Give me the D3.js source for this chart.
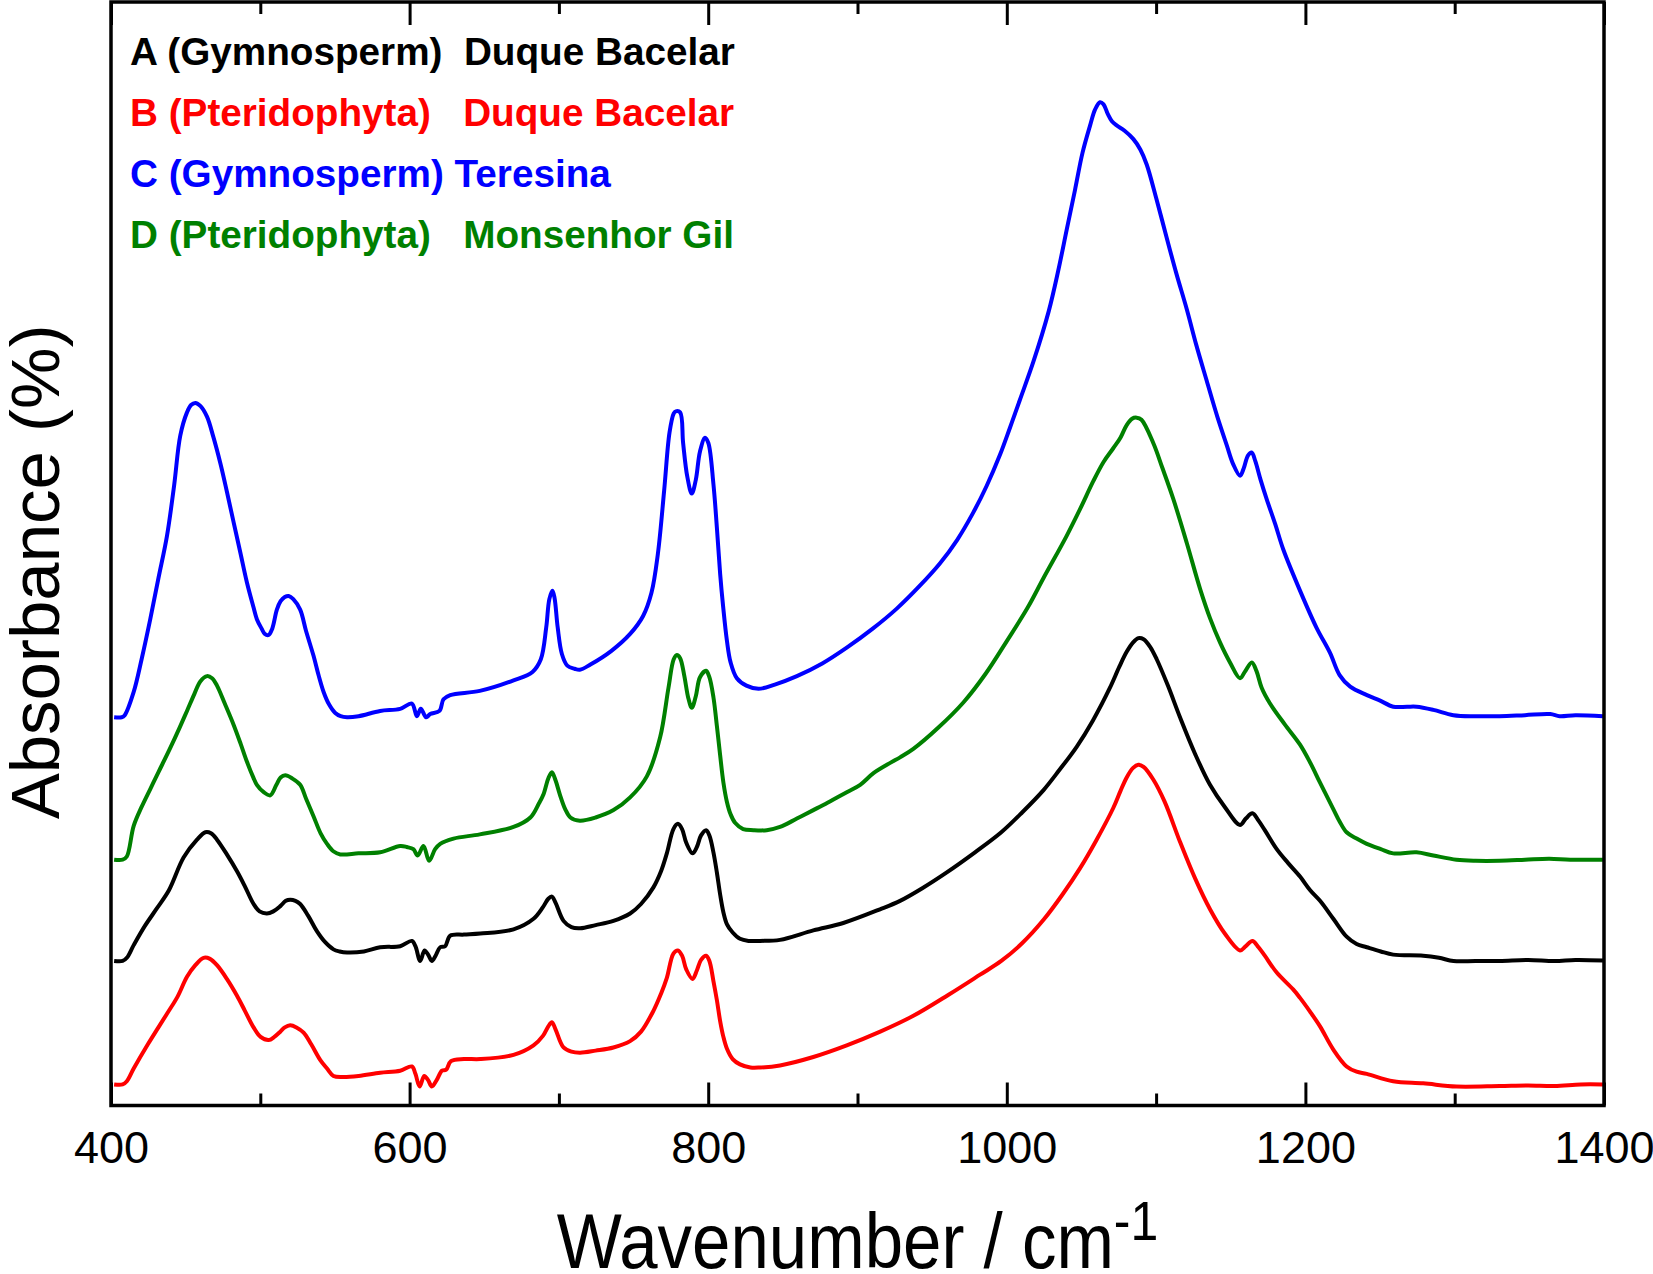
<!DOCTYPE html>
<html>
<head>
<meta charset="utf-8">
<script src="https://cdn.jsdelivr.net/npm/d3@7"></script>
<style>
html, body { margin: 0; padding: 0; background: #fff; }
svg { display: block; font-family: "Liberation Sans", Arial, sans-serif; }
</style>
</head>
<body>
<svg id="chart" width="1653" height="1274"></svg>
<script>
// x axis
const xTicksMajor = [400, 600, 800, 1000, 1200, 1400];
const xTicksMinor = [500, 700, 900, 1100, 1300];

// legend
const legendLabels = [
    "A (Gymnosperm)  Duque Bacelar",
    "B (Pteridophyta)   Duque Bacelar",
    "C (Gymnosperm) Teresina",
    "D (Pteridophyta)   Monsenhor Gil"
];
const seriesColors = ["#000000", "#ff0000", "#0000ff", "#008000"];

// spectra, [wavenumber, absorbance (offset, a.u.)]
const specA = [
    [402.1,0.137],[407.8,0.137],[410.6,0.140],[415.2,0.152],[422.6,0.170],[430.8,0.187],[438.8,0.204],
    [448.6,0.235],[457.6,0.252],[463.2,0.259],[467.0,0.258],[471.0,0.252],[477.6,0.238],[484.4,0.222],
    [489.6,0.208],[495.5,0.191],[499.5,0.184],[504.4,0.182],[508.7,0.184],[513.4,0.189],[517.1,0.194],
    [520.0,0.195],[523.5,0.194],[526.7,0.191],[532.0,0.180],[538.0,0.165],[543.3,0.155],[549.0,0.148],
    [553.1,0.146],[558.1,0.145],[569.4,0.146],[580.3,0.150],[593.7,0.151],[601.5,0.156],[603.9,0.151],
    [607.1,0.137],[610.0,0.147],[612.4,0.143],[614.9,0.137],[617.4,0.142],[620.5,0.150],[623.8,0.151],
    [627.2,0.161],[636.4,0.162],[647.3,0.163],[669.6,0.167],[683.0,0.177],[689.3,0.188],[692.9,0.196],
    [695.3,0.198],[697.8,0.192],[703.1,0.175],[708.4,0.169],[714.2,0.168],[724.6,0.171],[736.5,0.175],
    [747.7,0.182],[755.0,0.191],[763.4,0.207],[768.4,0.222],[772.3,0.239],[776.7,0.262],[779.7,0.267],
    [782.5,0.262],[785.3,0.249],[789.5,0.239],[792.4,0.245],[795.2,0.256],[798.6,0.261],[800.8,0.256],
    [803.5,0.240],[805.8,0.221],[808.0,0.200],[810.2,0.183],[812.5,0.172],[816.4,0.164],[821.3,0.158],
    [827.0,0.156],[834.7,0.156],[848.1,0.157],[870.4,0.166],[890.5,0.173],[915.1,0.186],[928.5,0.194],
    [943.4,0.206],[959.8,0.221],[978.7,0.240],[996.3,0.259],[1010.4,0.278],[1024.6,0.299],[1035.2,0.318],
    [1046.8,0.340],[1057.7,0.365],[1069.1,0.396],[1075.4,0.416],[1080.3,0.430],[1084.6,0.439],[1088.1,0.443],
    [1091.6,0.442],[1095.9,0.435],[1100.4,0.423],[1107.9,0.398],[1116.0,0.368],[1126.2,0.333],[1136.1,0.304],
    [1146.0,0.283],[1156.2,0.266],[1160.1,0.272],[1164.5,0.277],[1168.6,0.270],[1172.8,0.261],[1180.8,0.243],
    [1188.3,0.230],[1196.4,0.217],[1203.2,0.204],[1209.8,0.194],[1218.7,0.177],[1227.6,0.160],[1234.3,0.153],
    [1241.1,0.150],[1250.5,0.146],[1258.8,0.143],[1278.9,0.142],[1289.5,0.140],[1299.2,0.137],[1313.9,0.137],
    [1330.1,0.137],[1349.2,0.138],[1366.8,0.137],[1380.9,0.138],[1399.3,0.1375]
];
const specB = [
    [402.1,0.020],[407.8,0.020],[410.6,0.023],[415.2,0.035],[424.7,0.058],[437.5,0.087],[444.5,0.103],
    [450.9,0.122],[456.5,0.133],[462.0,0.140],[466.3,0.139],[471.0,0.133],[477.6,0.120],[484.4,0.104],
    [489.6,0.090],[495.5,0.074],[500.2,0.065],[505.6,0.062],[509.4,0.065],[513.4,0.070],[516.4,0.074],
    [520.0,0.076],[524.2,0.074],[529.0,0.069],[534.1,0.058],[540.2,0.043],[544.7,0.035],[549.0,0.028],
    [555.3,0.027],[565.8,0.028],[580.3,0.031],[593.7,0.033],[601.5,0.037],[603.9,0.030],[606.7,0.018],
    [609.8,0.028],[612.4,0.024],[614.9,0.018],[618.1,0.024],[621.7,0.033],[624.5,0.034],[627.7,0.042],
    [636.4,0.044],[647.3,0.044],[669.6,0.048],[683.0,0.057],[689.3,0.066],[692.9,0.075],[695.3,0.079],
    [697.8,0.072],[703.1,0.055],[708.4,0.051],[714.2,0.050],[724.6,0.052],[736.5,0.055],[747.7,0.061],
    [755.0,0.070],[763.4,0.090],[768.4,0.106],[772.3,0.121],[776.7,0.144],[779.7,0.147],[782.5,0.142],
    [785.3,0.129],[789.5,0.120],[792.4,0.128],[795.2,0.138],[798.6,0.142],[800.8,0.137],[803.5,0.118],
    [805.8,0.100],[808.0,0.080],[810.0,0.066],[812.5,0.054],[816.4,0.044],[821.3,0.039],[828.3,0.036],
    [834.7,0.036],[848.1,0.038],[870.4,0.046],[892.8,0.057],[915.2,0.070],[937.4,0.085],[961.0,0.105],
    [982.1,0.124],[996.3,0.137],[1010.4,0.154],[1024.6,0.176],[1037.3,0.200],[1049.1,0.225],
    [1059.8,0.251],[1071.3,0.282],[1076.1,0.298],[1080.3,0.311],[1084.6,0.320],[1088.1,0.323],[1091.6,0.321],
    [1098.1,0.309],[1105.7,0.288],[1116.0,0.250],[1126.2,0.215],[1136.1,0.186],[1146.0,0.163],[1156.2,0.147],
    [1160.1,0.151],[1164.5,0.156],[1168.6,0.150],[1172.8,0.142],[1180.8,0.126],[1191.8,0.110],[1196.4,0.102],
    [1203.1,0.089],[1209.8,0.075],[1218.7,0.053],[1227.6,0.037],[1234.3,0.032],[1241.1,0.030],[1258.8,0.023],
    [1278.9,0.021],[1301.2,0.018],[1330.1,0.0185],[1349.2,0.019],[1366.8,0.0185],[1384.4,0.020],[1399.3,0.020]
];
const specC = [
    [402.1,0.368],[407.1,0.368],[409.2,0.370],[415.2,0.392],[420.5,0.423],[426.3,0.461],[431.8,0.500],
    [437.5,0.540],[442.3,0.588],[446.4,0.635],[450.9,0.657],[453.6,0.664],[456.5,0.666],[460.0,0.663],
    [464.3,0.653],[468.5,0.634],[473.2,0.609],[477.6,0.582],[482.1,0.553],[486.8,0.523],[491.0,0.496],
    [495.3,0.473],[497.7,0.461],[500.9,0.452],[503.0,0.447],[505.6,0.446],[508.0,0.452],[511.1,0.470],
    [513.6,0.478],[516.4,0.482],[519.0,0.483],[522.1,0.480],[526.7,0.470],[530.6,0.450],[535.7,0.426],
    [539.0,0.408],[542.4,0.392],[546.1,0.380],[550.2,0.372],[553.8,0.369],[558.1,0.368],[565.8,0.369],
    [580.3,0.374],[593.7,0.376],[601.5,0.381],[604.9,0.369],[607.5,0.376],[611.1,0.368],[613.8,0.371],
    [620.0,0.374],[622.7,0.385],[627.2,0.389],[647.0,0.393],[669.6,0.403],[682.3,0.411],[687.9,0.423],
    [691.5,0.453],[693.6,0.480],[695.7,0.488],[697.1,0.481],[699.2,0.453],[702.0,0.428],[705.6,0.417],
    [710.5,0.414],[714.0,0.413],[721.1,0.418],[735.2,0.431],[747.7,0.447],[756.4,0.464],[762.0,0.486],
    [766.3,0.523],[770.5,0.583],[774.1,0.638],[776.9,0.656],[778.3,0.658],[781.2,0.657],[783.2,0.628],
    [786.0,0.596],[789.0,0.580],[791.7,0.593],[794.5,0.620],[797.9,0.633],[800.1,0.628],[803.5,0.589],
    [805.8,0.548],[808.0,0.504],[810.0,0.473],[812.5,0.441],[815.0,0.420],[819.2,0.405],[825.6,0.398],
    [833.7,0.395],[844.6,0.399],[859.4,0.407],[876.4,0.419],[892.8,0.434],[910.2,0.452],[926.3,0.471],
    [941.3,0.492],[955.3,0.514],[966.7,0.536],[977.5,0.562],[986.4,0.587],[995.5,0.617],[1002.0,0.642],
    [1008.8,0.669],[1017.8,0.705],[1028.1,0.753],[1034.4,0.791],[1040.1,0.830],[1045.7,0.868],[1050.7,0.903],
    [1055.8,0.929],[1059.1,0.944],[1062.4,0.951],[1064.8,0.949],[1067.6,0.940],[1070.4,0.933],[1073.6,0.929],
    [1078.9,0.924],[1084.8,0.916],[1089.5,0.906],[1093.7,0.892],[1100.1,0.860],[1107.0,0.823],[1113.5,0.789],
    [1120.5,0.755],[1126.9,0.721],[1133.9,0.687],[1141.0,0.653],[1147.3,0.626],[1151.6,0.608],[1156.2,0.597],
    [1158.7,0.604],[1161.5,0.616],[1164.0,0.619],[1166.4,0.611],[1170.0,0.593],[1174.0,0.575],[1179.8,0.551],
    [1185.2,0.527],[1196.1,0.489],[1207.4,0.453],[1216.5,0.429],[1222.9,0.408],[1230.0,0.397],[1241.2,0.389],
    [1249.7,0.384],[1258.9,0.378],[1268.1,0.378],[1274.5,0.378],[1285.7,0.375],[1299.1,0.370],[1313.9,0.369],
    [1330.1,0.369],[1347.1,0.370],[1364.0,0.371],[1370.3,0.369],[1380.9,0.370],[1399.3,0.369]
];
const specD = [
    [402.1,0.233],[407.8,0.233],[410.6,0.236],[415.2,0.265],[420.5,0.283],[426.3,0.300],[431.8,0.316],
    [439.7,0.339],[445.9,0.358],[450.9,0.374],[455.8,0.390],[459.8,0.402],[464.3,0.407],[467.7,0.405],
    [471.0,0.398],[476.2,0.381],[482.1,0.361],[486.8,0.343],[491.0,0.326],[495.3,0.311],[497.7,0.304],
    [502.3,0.297],[506.7,0.294],[510.8,0.304],[513.6,0.311],[516.7,0.313],[521.4,0.310],[526.7,0.304],
    [530.6,0.291],[535.7,0.274],[540.4,0.258],[544.7,0.248],[548.9,0.241],[553.6,0.238],[565.8,0.239],
    [580.3,0.240],[593.7,0.246],[598.2,0.245],[602.5,0.243],[605.4,0.237],[609.3,0.246],[613.1,0.232],
    [617.1,0.243],[620.5,0.248],[629.4,0.253],[647.0,0.257],[669.6,0.264],[680.9,0.273],[686.5,0.286],
    [689.7,0.295],[692.9,0.310],[695.3,0.316],[697.8,0.308],[700.6,0.295],[704.2,0.281],[707.7,0.273],
    [714.0,0.270],[724.6,0.273],[736.6,0.280],[747.7,0.292],[758.9,0.312],[767.8,0.349],[773.4,0.396],
    [776.9,0.423],[779.0,0.427],[781.2,0.424],[783.9,0.408],[786.7,0.386],[789.0,0.377],[791.7,0.388],
    [794.5,0.406],[798.6,0.412],[800.8,0.406],[803.5,0.387],[805.8,0.360],[808.0,0.332],[810.2,0.306],
    [812.5,0.288],[815.0,0.276],[818.0,0.268],[823.4,0.262],[830.3,0.261],[839.2,0.261],[848.1,0.264],
    [859.4,0.272],[870.4,0.280],[879.9,0.287],[892.8,0.297],[901.8,0.304],[910.7,0.315],[922.2,0.325],
    [928.5,0.330],[937.4,0.338],[954.0,0.358],[970.9,0.382],[985.7,0.409],[999.9,0.440],[1014.0,0.472],
    [1024.6,0.500],[1040.1,0.540],[1049.3,0.566],[1058.0,0.592],[1064.8,0.610],[1071.3,0.623],[1076.1,0.633],
    [1080.3,0.645],[1083.9,0.651],[1087.0,0.652],[1090.2,0.650],[1098.1,0.628],[1104.3,0.604],[1111.5,0.575],
    [1120.6,0.533],[1129.4,0.490],[1136.1,0.462],[1142.8,0.439],[1149.5,0.420],[1156.2,0.405],[1159.4,0.411],
    [1164.1,0.420],[1167.2,0.412],[1170.7,0.396],[1176.3,0.381],[1186.3,0.361],[1196.4,0.342],[1203.2,0.325],
    [1209.8,0.306],[1218.7,0.281],[1223.0,0.269],[1227.6,0.259],[1234.3,0.253],[1241.1,0.248],[1250.5,0.243],
    [1258.8,0.239],[1274.4,0.240],[1285.7,0.237],[1301.2,0.233],[1313.9,0.232],[1330.1,0.232],[1347.1,0.233],
    [1363.3,0.234],[1377.4,0.233],[1399.3,0.233]
];
const spectra = [specA, specB, specC, specD];

const svg = d3.select('#chart');
const plotLeft = 111, plotRight = 1604, plotTop = 2, plotBottom = 1105.5;

const x = d3.scaleLinear().domain([400, 1400]).range([plotLeft, plotRight]);
const y = d3.scaleLinear().domain([0, 1.046]).range([plotBottom, plotTop]);

const line = d3.line()
    .x(d => x(d[0]))
    .y(d => y(d[1]))
    .curve(d3.curveCatmullRom.alpha(0.5));

// spectra
spectra.forEach((spec, i) => {
    svg.append('path')
        .datum(spec)
        .attr('fill', 'none')
        .attr('stroke', seriesColors[i])
        .attr('stroke-width', 4)
        .attr('stroke-linejoin', 'round')
        .attr('d', line);
});

// ticks, inward on bottom and top
function tickAxis(axis, ty, values, size, labels) {
    const g = svg.append('g')
        .attr('transform', 'translate(0,' + ty + ')')
        .call(axis(x).tickValues(values).tickSize(-size).tickPadding(26)
            .tickFormat(labels ? d3.format('d') : ''));
    g.select('.domain').remove();
    g.selectAll('line').attr('stroke', '#000').attr('stroke-width', 3);
    g.selectAll('text').attr('font-size', 45).attr('fill', '#000')
        .attr('font-family', '"Liberation Sans", Arial, sans-serif');
    return g;
}
tickAxis(d3.axisBottom, plotBottom, xTicksMajor, 23, true);
tickAxis(d3.axisBottom, plotBottom, xTicksMinor, 12, false);
tickAxis(d3.axisTop, plotTop, xTicksMajor, 23, false);
tickAxis(d3.axisTop, plotTop, xTicksMinor, 12, false);

// frame
svg.append('rect')
    .attr('x', plotLeft).attr('y', plotTop)
    .attr('width', plotRight - plotLeft).attr('height', plotBottom - plotTop)
    .attr('fill', 'none').attr('stroke', '#000').attr('stroke-width', 3.5);

// axis titles
const xTitle = svg.append('g')
    .attr('transform', 'translate(' + (plotLeft + plotRight) / 2 + ',1268) scale(1,1.12)')
    .append('text')
    .attr('text-anchor', 'middle')
    .attr('font-size', 69)
    .attr('fill', '#000');
xTitle.append('tspan').text('Wavenumber / cm');
xTitle.append('tspan').attr('dy', -25).attr('font-size', 50).text('-1');

svg.append('text')
    .attr('transform', 'translate(59,572) rotate(-90)')
    .attr('text-anchor', 'middle')
    .attr('font-size', 69)
    .attr('fill', '#000')
    .text('Absorbance (%)');

// legend
legendLabels.forEach((label, i) => {
    svg.append('text')
        .attr('x', 130)
        .attr('y', 65 + i * 61)
        .attr('font-size', 38.7)
        .attr('font-weight', 'bold')
        .attr('fill', seriesColors[i])
        .style('white-space', 'pre')
        .text(label);
});
</script>
</body>
</html>
